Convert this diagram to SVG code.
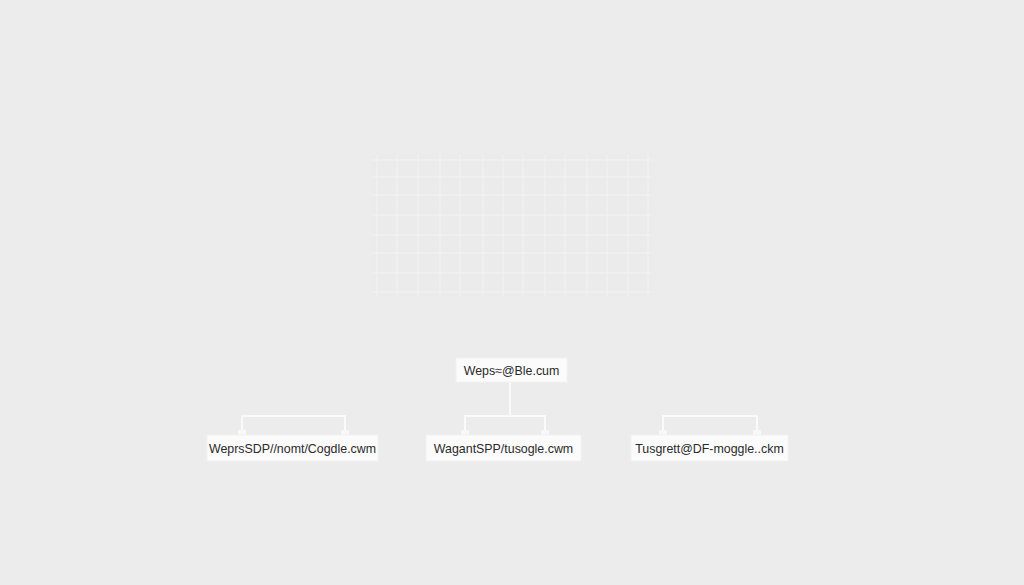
<svg xmlns="http://www.w3.org/2000/svg" width="1024" height="585" viewBox="0 0 1024 585">
<style>
.box{fill:#fbfbfb;stroke:#f2f2f2;stroke-width:1}
.lbl{font-family:"Liberation Sans",Arial,sans-serif;font-size:12.4px;fill:#2a2a2a;text-anchor:middle}
.con{fill:none;stroke:#fafafa;stroke-width:2}
.grid line{stroke:#f1f1f1;stroke-width:1.3}
.tab{fill:#f8f8f8}
</style>
<rect width="1024" height="585" fill="#ececec"/>
<g id="grid" class="grid">
<rect x="372" y="155" width="280" height="142" fill="#ebebeb"/>
<line x1="377" y1="155" x2="377" y2="296"/><line x1="397" y1="155" x2="397" y2="296"/><line x1="418" y1="155" x2="418" y2="296"/><line x1="440" y1="155" x2="440" y2="296"/><line x1="460" y1="155" x2="460" y2="296"/><line x1="483" y1="155" x2="483" y2="296"/><line x1="503" y1="155" x2="503" y2="296"/><line x1="523" y1="155" x2="523" y2="296"/><line x1="545" y1="155" x2="545" y2="296"/><line x1="565" y1="155" x2="565" y2="296"/><line x1="587" y1="155" x2="587" y2="296"/><line x1="607" y1="155" x2="607" y2="296"/><line x1="628" y1="155" x2="628" y2="296"/><line x1="648" y1="155" x2="648" y2="296"/>
<line x1="372" y1="160" x2="652" y2="160"/><line x1="372" y1="177" x2="652" y2="177"/><line x1="372" y1="195" x2="652" y2="195"/><line x1="372" y1="215" x2="652" y2="215"/><line x1="372" y1="235" x2="652" y2="235"/><line x1="372" y1="253" x2="652" y2="253"/><line x1="372" y1="273" x2="652" y2="273"/><line x1="372" y1="292" x2="652" y2="292"/>
</g>
<g id="connectors">
<path class="con" d="M510 382 V416 M465 434 V416 H545 V434"/>
<path class="con" d="M242 434 V416 H345 V434"/>
<path class="con" d="M663 434 V416 H757 V434"/>
<rect class="tab" x="461" y="430" width="8" height="6"/><rect class="tab" x="541" y="430" width="8" height="6"/>
<rect class="tab" x="238" y="430" width="8" height="6"/><rect class="tab" x="341" y="430" width="8" height="6"/>
<rect class="tab" x="659" y="430" width="8" height="6"/><rect class="tab" x="753" y="430" width="8" height="6"/>
</g>
<g id="n-top"><rect class="box" x="456" y="358" width="111" height="24"/><text class="lbl" x="511.5" y="375">Weps≈@Ble.cum</text></g>
<g id="n-left"><rect class="box" x="207" y="435" width="171" height="26"/><text class="lbl" x="292.5" y="453">WeprsSDP//nomt/Cogdle.cwm</text></g>
<g id="n-mid"><rect class="box" x="426" y="435" width="155" height="26"/><text class="lbl" x="503.5" y="453">WagantSPP/tusogle.cwm</text></g>
<g id="n-right"><rect class="box" x="631" y="435" width="157" height="26"/><text class="lbl" x="709.5" y="453">Tusgrett@DF-moggle..ckm</text></g>
</svg>
